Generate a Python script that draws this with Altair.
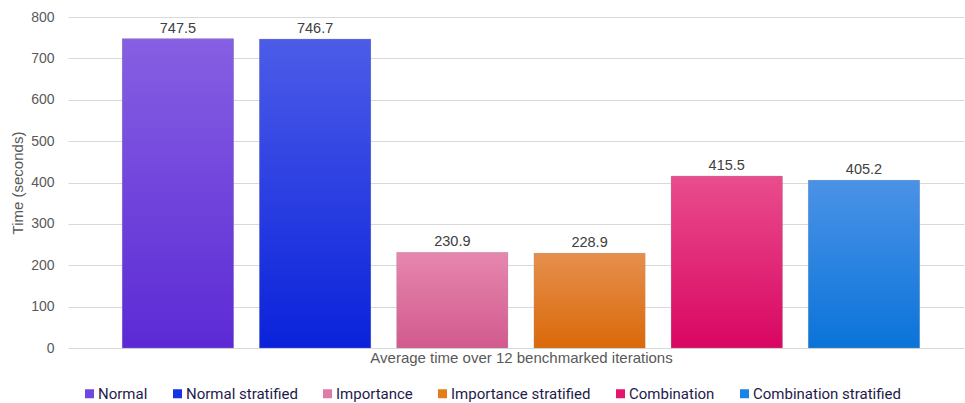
import altair as alt
import pandas as pd

categories = ["Normal", "Normal stratified", "Importance", "Importance stratified",
              "Combination", "Combination stratified"]
values = [747.5, 746.7, 230.9, 228.9, 415.5, 405.2]
top_colors = ["#865FE3", "#4C5CE8", "#E687AE", "#E68F4E", "#E94D8D", "#4B92E7"]
bottom_colors = ["#5C2AD5", "#0A22DB", "#D25A8E", "#DA6908", "#D90662", "#0A74D9"]
swatch_colors = ["#7446E0", "#1533E4", "#E07AA8", "#E37C1C", "#E5156D", "#1A84E4"]
y_ticks = [0, 100, 200, 300, 400, 500, 600, 700, 800]

df = pd.DataFrame({"category": categories, "value": values})

x_enc = alt.X(
    "category:N",
    sort=categories,
    scale=alt.Scale(domain=categories, paddingInner=0.19, paddingOuter=0.36, align=0.55),
    axis=alt.Axis(labels=False, ticks=False, domain=False,
                  title="Average time over 12 benchmarked iterations",
                  titlePadding=2, titleFontSize=15, titleFont="Liberation Sans",
                  titleFontWeight="normal", titleColor="#595959", titleX=453),
)
y_enc = alt.Y(
    "value:Q",
    scale=alt.Scale(domain=[0, 800], nice=False),
    axis=alt.Axis(values=y_ticks, grid=True, gridColor="#d9d9d9", domain=False, ticks=False,
                  labelPadding=14, labelFontSize=14, labelFont="Liberation Sans",
                  labelColor="#595959", title="Time (seconds)", titleFontSize=15,
                  titleFont="Liberation Sans", titleFontWeight="normal",
                  titleColor="#595959", titlePadding=5),
)

base = alt.Chart(df).encode(x=x_enc, y=y_enc)

legend_layer = base.mark_bar().encode(
    color=alt.Color(
        "category:N",
        sort=categories,
        scale=alt.Scale(domain=categories, range=swatch_colors),
        legend=alt.Legend(
            title=None, orient="none", direction="horizontal", columns=6,
            legendX=14, legendY=369, padding=0,
            symbolType="square", symbolSize=81, symbolStrokeWidth=0,
            labelFont="Roboto", labelFontSize=15, labelColor="#1E1B4B",
            labelOffset=1, columnPadding=22,
        ),
    )
)

layers = [legend_layer]
for cat, tc, bc in zip(categories, top_colors, bottom_colors):
    layers.append(
        base.transform_filter(alt.datum.category == cat).mark_bar(
            color=alt.Gradient(
                gradient="linear",
                stops=[alt.GradientStop(color=tc, offset=0),
                       alt.GradientStop(color=bc, offset=1)],
                x1=0, x2=0, y1=0, y2=1,
            ),
            stroke="#9a9a9a", strokeWidth=0.6, strokeOpacity=0.5,
        )
    )

text_layer = base.mark_text(
    baseline="bottom", dy=-3, fontSize=14.5, font="Liberation Sans", color="#404040"
).encode(text=alt.Text("value:Q", format=".1f"))
layers.append(text_layer)

chart = alt.layer(*layers).properties(
    width=896, height=331,
    autosize=alt.AutoSizeParams(type="none"),
    padding={"left": 68, "top": 17, "right": 1, "bottom": 55},
).configure_view(stroke=None)

chart.save("out.html", embed_options={"renderer": "svg", "actions": False})
